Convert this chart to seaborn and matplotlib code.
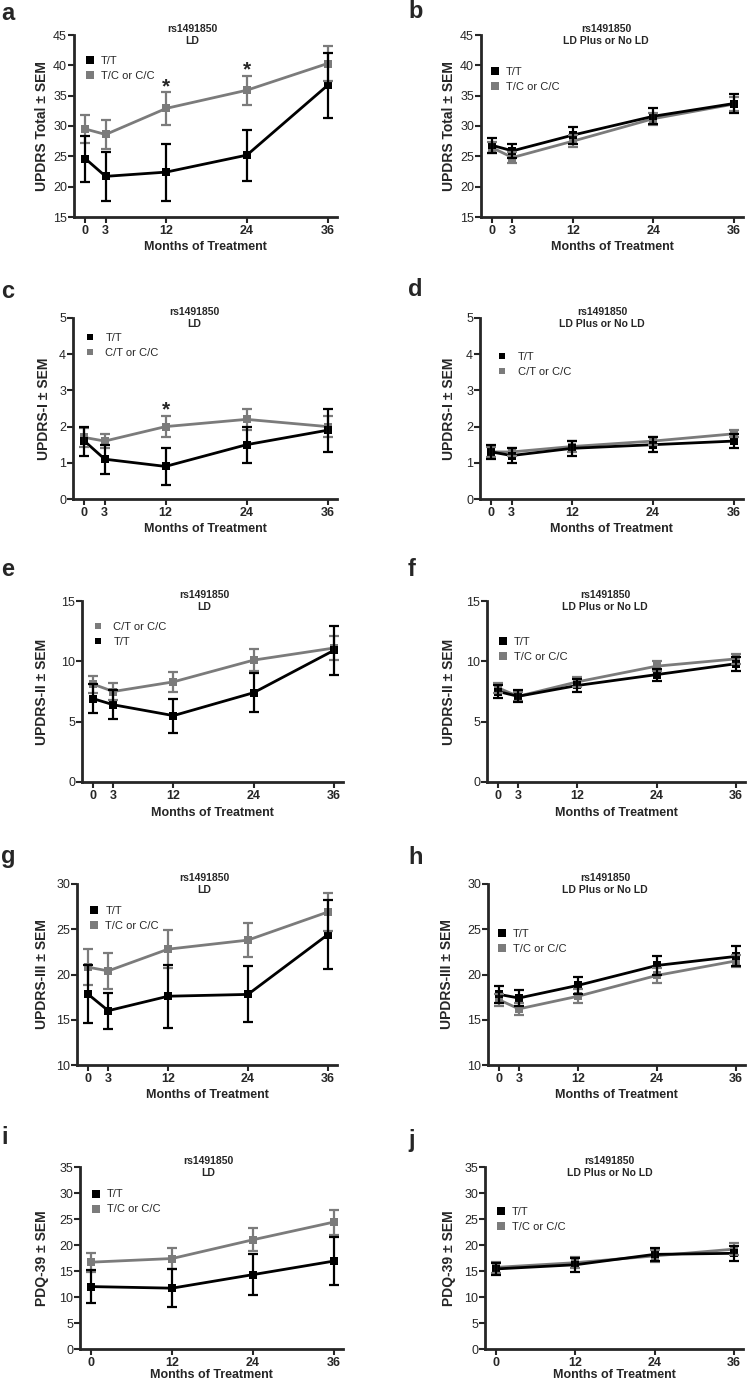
import pandas as pd
import seaborn as sns
import matplotlib.pyplot as plt
from matplotlib.lines import Line2D

# ---- data (means and SEM) ----
months_5 = [0, 3, 12, 24, 36]
months_4 = [0, 12, 24, 36]

# a: UPDRS total, LD
a_tt = [24.6, 21.7, 22.4, 25.2, 36.7]
a_tt_sem = [3.8, 4.0, 4.7, 4.2, 5.4]
a_tc = [29.5, 28.6, 32.9, 35.9, 40.3]
a_tc_sem = [2.3, 2.4, 2.7, 2.4, 2.9]
# b: UPDRS total, LD plus or no LD
b_tt = [26.8, 25.9, 28.5, 31.6, 33.7]
b_tt_sem = [1.3, 1.2, 1.4, 1.3, 1.5]
b_tc = [26.4, 24.8, 27.5, 31.2, 33.6]
b_tc_sem = [0.9, 0.9, 1.0, 1.0, 1.2]
# c: UPDRS-I, LD
c_tt = [1.6, 1.1, 0.9, 1.5, 1.9]
c_tt_sem = [0.4, 0.4, 0.5, 0.5, 0.6]
c_tc = [1.7, 1.6, 2.0, 2.2, 2.0]
c_tc_sem = [0.25, 0.2, 0.3, 0.3, 0.3]
# d: UPDRS-I, LD plus or no LD
d_tt = [1.3, 1.2, 1.4, 1.5, 1.6]
d_tt_sem = [0.2, 0.2, 0.2, 0.2, 0.2]
d_tc = [1.3, 1.3, 1.45, 1.6, 1.8]
d_tc_sem = [0.15, 0.12, 0.15, 0.1, 0.1]
# e: UPDRS-II, LD
e_tt = [6.9, 6.4, 5.5, 7.4, 10.9]
e_tt_sem = [1.2, 1.2, 1.4, 1.6, 2.0]
e_tc = [8.1, 7.5, 8.3, 10.1, 11.1]
e_tc_sem = [0.7, 0.7, 0.8, 0.9, 1.0]
# f: UPDRS-II, LD plus or no LD
f_tt = [7.5, 7.1, 8.0, 8.9, 9.8]
f_tt_sem = [0.5, 0.5, 0.5, 0.5, 0.6]
f_tc = [7.8, 7.1, 8.3, 9.6, 10.2]
f_tc_sem = [0.4, 0.4, 0.4, 0.4, 0.4]
# g: UPDRS-III, LD
g_tt = [17.8, 16.0, 17.6, 17.8, 24.4]
g_tt_sem = [3.2, 2.0, 3.5, 3.1, 3.8]
g_tc = [20.8, 20.4, 22.8, 23.8, 26.9]
g_tc_sem = [2.0, 2.0, 2.1, 1.9, 2.1]
# h: UPDRS-III, LD plus or no LD
h_tt = [17.8, 17.4, 18.8, 21.0, 22.0]
h_tt_sem = [0.9, 0.9, 0.9, 1.0, 1.1]
h_tc = [17.2, 16.2, 17.6, 19.9, 21.5]
h_tc_sem = [0.7, 0.7, 0.8, 0.8, 0.7]
# i: PDQ-39, LD
i_tt = [12.0, 11.7, 14.3, 16.9]
i_tt_sem = [3.2, 3.7, 4.0, 4.6]
i_tc = [16.7, 17.4, 21.0, 24.4]
i_tc_sem = [1.85, 2.0, 2.2, 2.4]
# j: PDQ-39, LD plus or no LD
j_tt = [15.4, 16.2, 18.2, 18.4]
j_tt_sem = [1.2, 1.3, 1.3, 1.4]
j_tc = [15.7, 16.6, 17.9, 19.2]
j_tc_sem = [1.0, 1.1, 1.1, 1.1]

stars_a = [(12, 36.5), (24, 39.2)]
stars_c = [(12, 2.45)]

BLACK = "#000000"
GRAY = "#7b7b7b"

sns.set_style("ticks")
plt.rcParams["font.family"] = ["Liberation Sans", "DejaVu Sans"]

W, H = 751, 1382
fig = plt.figure(figsize=(W / 100, H / 100), dpi=100)

# letter, months, tt, tt_sem, tc, tc_sem, ylabel, ylim, subtitle, tc label, tt first?, stars,
# box px (left, top, right, bottom), legend (mx, r1, r2, marker size, textpad), title x, ylabel offset,
# panel letter position px
panels = [
    ("a", months_5, a_tt, a_tt_sem, a_tc, a_tc_sem, "UPDRS Total ± SEM", (15, 45), "LD", "T/C or C/C", True, stars_a,
     (74, 35, 337, 217), (0.06, 0.137, 0.23, 6, 0.6), 0.45, 31, (1, 14)),
    ("b", months_5, b_tt, b_tt_sem, b_tc, b_tc_sem, "UPDRS Total ± SEM", (15, 45), "LD Plus or No LD", "T/C or C/C", True, [],
     (481, 35, 743, 217), (0.053, 0.203, 0.286, 6, 0.6), 0.477, 31, (408, 12)),
    ("c", months_5, c_tt, c_tt_sem, c_tc, c_tc_sem, "UPDRS-I ± SEM", (0, 5), "LD", "C/T or C/C", True, stars_c,
     (73, 318, 337, 499), (0.064, 0.105, 0.2, 4.3, 1.0), 0.46, 28, (1, 291)),
    ("d", months_5, d_tt, d_tt_sem, d_tc, d_tc_sem, "UPDRS-I ± SEM", (0, 5), "LD Plus or No LD", "C/T or C/C", True, [],
     (480, 318, 743, 499), (0.084, 0.21, 0.30, 4.3, 1.0), 0.464, 30, (408, 290)),
    ("e", months_5, e_tt, e_tt_sem, e_tc, e_tc_sem, "UPDRS-II ± SEM", (0, 15), "LD", "C/T or C/C", False, [],
     (82, 601, 343, 782), (0.061, 0.144, 0.227, 4.3, 1.0), 0.467, 39, (1, 569)),
    ("f", months_5, f_tt, f_tt_sem, f_tc, f_tc_sem, "UPDRS-II ± SEM", (0, 15), "LD Plus or No LD", "T/C or C/C", True, [],
     (487, 601, 745, 782), (0.062, 0.227, 0.304, 6, 0.6), 0.457, 37, (408, 569)),
    ("g", months_5, g_tt, g_tt_sem, g_tc, g_tc_sem, "UPDRS-III ± SEM", (10, 30), "LD", "T/C or C/C", True, [],
     (77, 884, 337, 1065), (0.066, 0.149, 0.232, 6, 0.6), 0.49, 34, (1, 857)),
    ("h", months_5, h_tt, h_tt_sem, h_tc, h_tc_sem, "UPDRS-III ± SEM", (10, 30), "LD Plus or No LD", "T/C or C/C", True, [],
     (488, 884, 745, 1065), (0.054, 0.27, 0.36, 6, 0.6), 0.455, 40, (408, 857)),
    ("i", months_4, i_tt, i_tt_sem, i_tc, i_tc_sem, "PDQ-39 ± SEM", (0, 35), "LD", "T/C or C/C", True, [],
     (80, 1167, 343, 1349), (0.06, 0.148, 0.236, 6, 0.6), 0.487, 37, (1, 1138)),
    ("j", months_4, j_tt, j_tt_sem, j_tc, j_tc_sem, "PDQ-39 ± SEM", (0, 35), "LD Plus or No LD", "T/C or C/C", True, [],
     (485, 1167, 743, 1349), (0.062, 0.247, 0.33, 6, 0.6), 0.484, 35, (408, 1140)),
]

for (letter, months, tt, tt_sem, tc, tc_sem, ylab, ylim, sub, tc_lab, tt_first, stars,
     box, leg, title_x, ylab_off, letter_pos) in panels:
    l, t, r, b = box
    ax = fig.add_axes([l / W, 1 - b / H, (r - l) / W, (b - t) / H])

    df = pd.DataFrame({
        "month": months + months,
        "score": tc + tt,
        "sem": tc_sem + tt_sem,
        "genotype": [tc_lab] * len(months) + ["T/T"] * len(months),
    })
    pal = {tc_lab: GRAY, "T/T": BLACK}

    sns.lineplot(data=df, x="month", y="score", hue="genotype", hue_order=[tc_lab, "T/T"],
                 palette=pal, marker="s", markersize=6, markeredgewidth=0,
                 linewidth=2, legend=False, ax=ax)
    for g in [tc_lab, "T/T"]:
        sub_df = df[df["genotype"] == g]
        ax.errorbar(sub_df["month"], sub_df["score"], yerr=sub_df["sem"], fmt="none",
                    ecolor=pal[g], elinewidth=1.6, capsize=3.5, capthick=1.6)

    for sx, sy in stars:
        ax.text(sx, sy, "*", ha="center", va="center", fontsize=15, fontweight="bold")

    ax.set_xlim(-1.7, 37.4)
    ax.set_ylim(*ylim)
    step = 1 if ylim[1] <= 5 else 5
    ax.set_yticks(range(ylim[0], ylim[1] + 1, step))
    ax.set_xticks(months)
    ax.tick_params(axis="y", labelsize=9, width=1.5, length=4, pad=1)
    ax.tick_params(axis="x", labelsize=9, width=1.5, length=4, pad=2)
    for lab in ax.get_xticklabels():
        lab.set_fontweight("bold")
    for s in ["left", "bottom"]:
        ax.spines[s].set_linewidth(2)
    sns.despine(ax=ax)

    ax.set_xlabel("Months of Treatment", fontsize=9, fontweight="bold",
                  labelpad=0 if letter in "ij" else 3)
    ax.set_ylabel(ylab, fontsize=10, fontweight="bold")
    ax.yaxis.set_label_coords(-(ylab_off - 6) / (r - l), 0.5)

    ax.text(title_x, 1.0, "rs1491850\n" + sub, transform=ax.transAxes, ha="center",
            va="center", fontsize=7.5, fontweight="bold", linespacing=1.25)

    mx, r1, r2, msz, tpad = leg
    h_tt = Line2D([], [], color=BLACK, marker="s", linestyle="none", markersize=msz, markeredgewidth=0)
    h_tc = Line2D([], [], color=GRAY, marker="s", linestyle="none", markersize=msz, markeredgewidth=0)
    handles, labels = ([h_tt, h_tc], ["T/T", tc_lab]) if tt_first else ([h_tc, h_tt], [tc_lab, "T/T"])
    ax.legend(handles, labels, loc="center left",
              bbox_to_anchor=(mx - 0.017, 1 - (r1 + r2) / 2), frameon=False,
              fontsize=8, handlelength=0.8, handletextpad=tpad, labelspacing=0.45,
              borderpad=0, borderaxespad=0)

    fig.text(letter_pos[0] / W, 1 - letter_pos[1] / H, letter,
             fontsize=17, fontweight="bold", ha="left", va="center")

fig.savefig("out.png", dpi=100)
